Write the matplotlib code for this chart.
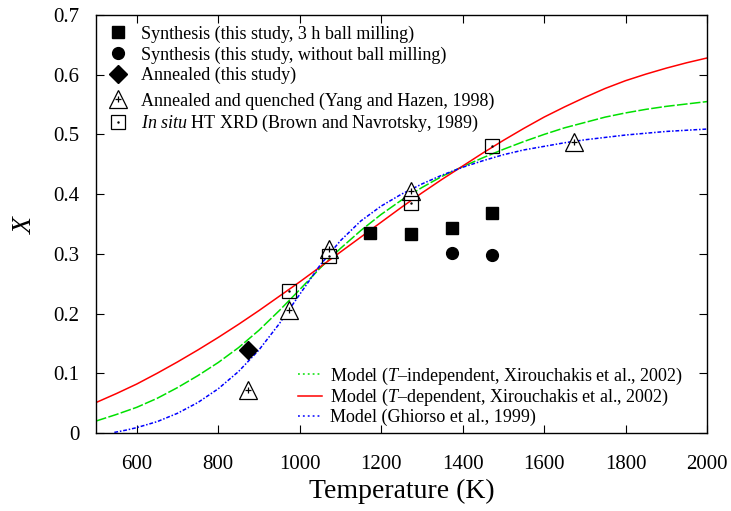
import matplotlib
matplotlib.use("Agg")
import matplotlib.pyplot as plt
from matplotlib.lines import Line2D
from matplotlib.legend_handler import HandlerTuple

plt.rcParams["font.family"] = ["Liberation Serif", "DejaVu Serif"]
plt.rcParams["mathtext.fontset"] = "custom"
plt.rcParams["mathtext.rm"] = "Liberation Serif"
plt.rcParams["mathtext.it"] = "Liberation Serif:italic"

# --- measured cation-disorder data ---
synth_milled_T = [1173, 1273, 1373, 1473]
synth_milled_X = [0.335, 0.333, 0.344, 0.368]

synth_plain_T = [1373, 1473]
synth_plain_X = [0.301, 0.298]

annealed_T = [873]
annealed_X = [0.139]

yang_T = [873, 973, 1073, 1273, 1673]
yang_X = [0.072, 0.206, 0.308, 0.406, 0.487]

brown_T = [973, 1073, 1273, 1473]
brown_X = [0.238, 0.296, 0.385, 0.481]

# --- model curves (tabulated) ---
model_T = [500, 550, 600, 650, 700, 750, 800, 850, 900, 950, 1000, 1050,
           1100, 1150, 1200, 1250, 1300, 1350, 1400, 1450, 1500, 1550,
           1600, 1650, 1700, 1750, 1800, 1850, 1900, 1950, 2000]
model_tind_X = [0.020, 0.031, 0.043, 0.058, 0.076, 0.096, 0.118, 0.143,
                0.172, 0.205, 0.240, 0.276, 0.309, 0.339, 0.366, 0.390,
                0.411, 0.430, 0.446, 0.461, 0.475, 0.488, 0.500, 0.511,
                0.520, 0.529, 0.536, 0.542, 0.547, 0.551, 0.555]
model_tdep_X = [0.051, 0.066, 0.082, 0.100, 0.119, 0.139, 0.160, 0.182,
                0.205, 0.229, 0.253, 0.278, 0.303, 0.328, 0.353, 0.378,
                0.402, 0.425, 0.447, 0.469, 0.490, 0.510, 0.529, 0.546,
                0.562, 0.577, 0.590, 0.601, 0.611, 0.620, 0.628]
ghiorso_T = [545, 575, 600, 650, 700, 750, 800, 850, 900, 950, 1000, 1050,
             1100, 1150, 1200, 1250, 1300, 1350, 1400, 1450, 1500, 1550,
             1600, 1650, 1700, 1750, 1800, 1850, 1900, 1950, 2000]
ghiorso_X = [0.001, 0.005, 0.009, 0.019, 0.033, 0.051, 0.074, 0.103,
             0.139, 0.183, 0.232, 0.281, 0.322, 0.355, 0.380, 0.400,
             0.417, 0.432, 0.445, 0.456, 0.466, 0.474, 0.480, 0.486,
             0.491, 0.495, 0.499, 0.502, 0.505, 0.507, 0.509]

x_ticks = [600, 800, 1000, 1200, 1400, 1600, 1800, 2000]
y_ticks = [0, 0.1, 0.2, 0.3, 0.4, 0.5, 0.6, 0.7]
y_ticklabels = ["0", "0.1", "0.2", "0.3", "0.4", "0.5", "0.6", "0.7"]

fig = plt.figure(figsize=(7.31, 5.11), dpi=100)
ax = fig.add_axes([96 / 731, 78 / 511, 611 / 731, 418 / 511])

green = "#00e000"
red = "#ff0000"
blue = "#0000ff"

ax.plot(model_T, model_tind_X, color=green, lw=1.1, dashes=(7, 1.5), zorder=2)
l_tdep, = ax.plot(model_T, model_tdep_X, color=red, lw=1.1, zorder=2)
ax.plot(ghiorso_T, ghiorso_X, color=blue, lw=1.1,
        dashes=(2.5, 1.2, 1, 1.2), zorder=2)

# dotted key samples for the two broken model lines
key_tind = Line2D([], [], color=green, lw=1.1, dashes=(1.2, 2.0))
key_ghi = Line2D([], [], color=blue, lw=1.1, dashes=(1.2, 2.0))

m_sq, = ax.plot(synth_milled_T, synth_milled_X, ls="none", marker="s",
                ms=8.5, color="black", zorder=4)
m_ci, = ax.plot(synth_plain_T, synth_plain_X, ls="none", marker="o",
                ms=8.5, color="black", zorder=4)
m_di, = ax.plot(annealed_T, annealed_X, ls="none", marker="D",
                ms=9, color="black", zorder=4)
m_tri, = ax.plot(yang_T, yang_X, ls="none", marker="^", ms=13,
                 mfc="white", mec="black", mew=0.9, zorder=3)
m_tri_in, = ax.plot(yang_T, yang_X, ls="none", marker="+", ms=5,
                    color="black", mew=0.9, zorder=5)
m_box, = ax.plot(brown_T, brown_X, ls="none", marker="s", ms=10.5,
                 mfc="none", mec="black", mew=0.9, zorder=3)
m_box_in, = ax.plot(brown_T, brown_X, ls="none", marker=".", ms=1.5,
                    color="black", zorder=5)

ax.set_xlim(500, 2000)
ax.set_ylim(0, 0.7)
ax.set_xticks(x_ticks)
ax.set_yticks(y_ticks)
ax.set_yticklabels(y_ticklabels)
ax.tick_params(direction="in", length=6, width=0.8, top=True, right=True,
               labelsize=15)
ax.tick_params(axis="x", pad=15.5)
ax.tick_params(axis="y", pad=12)
for s in ax.spines.values():
    s.set_linewidth(1.0)

ax.set_xlabel("Temperature (K)", fontsize=20, labelpad=4)
ax.set_ylabel("$X$", fontsize=20, rotation=90, labelpad=12)

leg_kw = dict(frameon=False, fontsize=13, borderaxespad=0, borderpad=0)

leg1 = ax.legend([m_sq, m_ci, m_di],
                 ["Synthesis (this study, 3 h ball milling)",
                  "Synthesis (this study, without ball milling)",
                  "Annealed (this study)"],
                 loc="upper left", bbox_to_anchor=(0.021, 0.975),
                 handlelength=1.0, handletextpad=0.78, labelspacing=0.19,
                 **leg_kw)
ax.add_artist(leg1)

leg2 = ax.legend([(m_tri, m_tri_in), (m_box, m_box_in)],
                 ["Annealed and quenched (Yang and Hazen, 1998)",
                  r"$In\ situ$ HT XRD (Brown and Navrotsky, 1989)"],
                 handler_map={tuple: HandlerTuple(ndivide=1, pad=0)},
                 loc="upper left", bbox_to_anchor=(0.021, 0.815),
                 handlelength=1.0, handletextpad=0.78, labelspacing=0.19,
                 **leg_kw)
ax.add_artist(leg2)

leg3 = ax.legend([key_tind, l_tdep, key_ghi],
                 ["Model ($T$\u2013independent, Xirouchakis et al., 2002)",
                  "Model ($T$\u2013dependent, Xirouchakis et al., 2002)",
                  "Model (Ghiorso et al., 1999)"],
                 loc="upper left", bbox_to_anchor=(0.331, 0.161),
                 handlelength=1.33, handletextpad=0.44, labelspacing=0.02,
                 **leg_kw)

fig.savefig("out.png", dpi=100)
